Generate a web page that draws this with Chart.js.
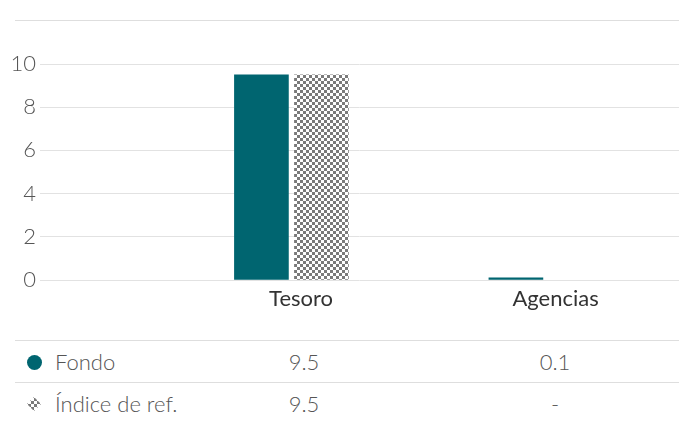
<!DOCTYPE html>
<html>
<head>
<meta charset="utf-8">
<script src="https://cdn.jsdelivr.net/npm/chart.js@4"></script>
<style>
  body { margin: 0; background: #fff; }
  #wrap { position: relative; width: 687px; height: 422px; font-family: Lato, "Open Sans", sans-serif; color: #555; }
  .rule { position: absolute; left: 15px; width: 664px; border-top: 1px solid #dedede; }
  #box { position: absolute; left: 0; top: 0; width: 687px; height: 330px; }
  .row { position: absolute; left: 15px; width: 664px; height: 42px; border-top: 1px solid #dedede; font-weight: 300; font-size: 22px; }
  .row span { position: absolute; top: 8px; line-height: 26px; }
  .row .val { width: 100px; text-align: center; }
</style>
</head>
<body>
<div id="wrap">
  <div class="rule" style="top:20px"></div>
  <div id="box"><canvas id="chart"></canvas></div>
  <div id="tbl"></div>
</div>
<script>
const categories = ['Tesoro', 'Agencias'];
const seriesNames = ['Fondo', 'Índice de ref.'];
const fondo = [9.5, 0.1];
const indice = [9.5, null];
const yTicks = [0, 2, 4, 6, 8, 10];

const teal = '#006570';

function hatch(ctx) {
  const p = document.createElement('canvas');
  p.width = 6; p.height = 6;
  const g = p.getContext('2d');
  g.fillStyle = '#fff';
  g.fillRect(0, 0, 6, 6);
  g.fillStyle = '#7a7a7a';
  g.fillRect(0, 0, 3, 3);
  g.fillRect(3, 3, 3, 3);
  return ctx.createPattern(p, 'repeat');
}

const ctx = document.getElementById('chart').getContext('2d');
const pattern = hatch(ctx);

// categories sit at x = 1, 2 on a linear index axis
const points = arr => arr.map((v, i) => ({ x: i + 1, y: v }));

new Chart(ctx, {
  type: 'bar',
  data: {
    datasets: [
      { label: seriesNames[0], data: points(fondo), backgroundColor: teal },
      { label: seriesNames[1], data: points(indice), backgroundColor: pattern }
    ]
  },
  options: {
    responsive: true,
    maintainAspectRatio: false,
    animation: false,
    layout: { padding: { top: 64, right: 8, left: 0, bottom: 0 } },
    datasets: { bar: { barThickness: 60, maxBarThickness: 54 } },
    plugins: { legend: { display: false }, tooltip: { enabled: false } },
    scales: {
      x: {
        type: 'linear',
        offset: false,
        min: 0.012,
        max: 2.523,
        grid: { display: false, offset: false },
        border: { display: false },
        afterBuildTicks: s => { s.ticks = categories.map((c, i) => ({ value: i + 1.038 })); },
        afterFit: s => { s.height = 50; },
        ticks: {
          padding: -2,
          color: '#333',
          font: { family: 'Lato', size: 22, weight: 400 },
          callback: (v, i) => categories[i]
        }
      },
      y: {
        min: 0,
        max: 10,
        afterBuildTicks: s => { s.ticks = yTicks.map(v => ({ value: v })); },
        afterFit: s => { s.width = 40; },
        grid: { color: '#e2e2e2', drawTicks: false },
        border: { display: false },
        ticks: {
          padding: 4,
          color: '#555',
          font: { family: 'Lato', size: 22, weight: 300 }
        }
      }
    }
  }
});

// data table under the chart
const tbl = document.getElementById('tbl');
const colCenters = [304, 555];
[fondo, indice].forEach((vals, r) => {
  const row = document.createElement('div');
  row.className = 'row';
  row.style.top = (340 + r * 42) + 'px';
  let icon;
  if (r === 0) {
    icon = document.createElement('span');
    icon.style.cssText = 'top:14px;left:12px;width:15px;height:15px;border-radius:50%;background:' + teal;
  } else {
    icon = document.createElement('canvas');
    icon.width = 18; icon.height = 18;
    icon.style.cssText = 'position:absolute;top:12px;left:10px';
    const g = icon.getContext('2d');
    g.beginPath();
    g.moveTo(9, 2); g.lineTo(16, 9); g.lineTo(9, 16); g.lineTo(2, 9);
    g.closePath();
    g.fillStyle = hatch(g);
    g.fill();
  }
  row.appendChild(icon);
  const name = document.createElement('span');
  name.style.left = '40px';
  name.textContent = seriesNames[r];
  row.appendChild(name);
  vals.forEach((v, c) => {
    const s = document.createElement('span');
    s.className = 'val';
    s.style.left = (colCenters[c] - 15 - 50) + 'px';
    s.textContent = v === null ? '-' : v.toFixed(1);
    row.appendChild(s);
  });
  tbl.appendChild(row);
});
</script>
</body>
</html>
